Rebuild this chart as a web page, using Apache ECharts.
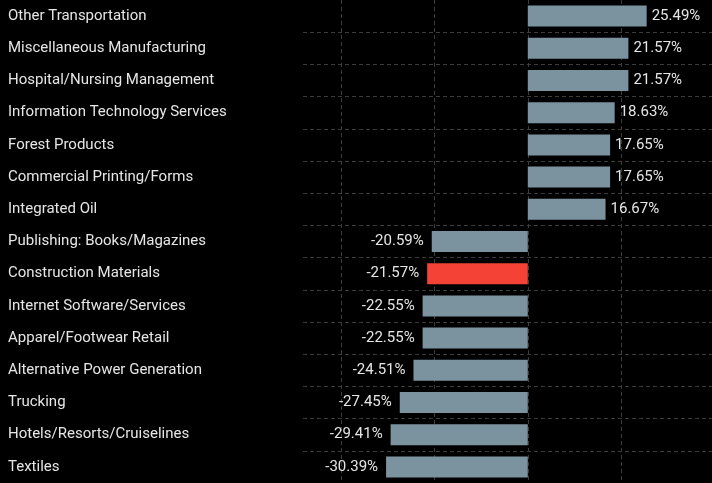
<!DOCTYPE html>
<html lang="en">

<head>
  <meta charset="UTF-8">
  <title>Industry returns</title>
  <style>
    html, body { margin: 0; padding: 0; background: #000; }
  </style>
</head>

<body>
  <div class="wrapper" style="width:712px;height:483px;"></div>

  <script src="https://cdn.jsdelivr.net/npm/echarts@6/dist/echarts.min.js"></script>
  <script>
    const categories = [
      'Other Transportation', 'Miscellaneous Manufacturing', 'Hospital/Nursing Management',
      'Information Technology Services', 'Forest Products', 'Commercial Printing/Forms',
      'Integrated Oil', 'Publishing: Books/Magazines', 'Construction Materials',
      'Internet Software/Services', 'Apparel/Footwear Retail', 'Alternative Power Generation',
      'Trucking', 'Hotels/Resorts/Cruiselines', 'Textiles'
    ]
    const values = [25.49, 21.57, 21.57, 18.63, 17.65, 17.65, 16.67,
      -20.59, -21.57, -22.55, -22.55, -24.51, -27.45, -29.41, -30.39]
    // the one bar drawn in red
    const highlight = 'Construction Materials'

    const echart = echarts.init(document.querySelector('.wrapper'))

    const gridLine = { show: true, showMinLine: false, showMaxLine: false,
      lineStyle: { color: '#3c3c3c', type: [4, 3], width: 1 } }

    const option = {
      backgroundColor: '#000',
      animation: false,
      grid: { left: 303, right: 0, top: 0, bottom: 0 },
      xAxis: {
        type: 'value',
        min: -48.2,
        max: 39.5,
        axisLabel: { show: false },
        axisLine: { show: false },
        axisTick: { show: false },
        splitLine: gridLine
      },
      yAxis: {
        type: 'category',
        data: categories,
        inverse: true,
        axisLine: { show: false },
        axisTick: { show: false },
        axisLabel: {
          align: 'left',
          margin: 295,
          color: '#e6e6e6',
          fontFamily: 'Roboto',
          fontSize: 15
        },
        splitLine: gridLine
      },
      series: [{
        type: 'bar',
        barWidth: 21,
        data: values.map((v, i) => ({
          value: v,
          itemStyle: { color: categories[i] === highlight ? '#f44336' : '#7b939f' },
          label: v >= 0 ? { position: 'right', distance: 5 } : { position: 'left', distance: 8 }
        })),
        label: {
          show: true,
          color: '#e6e6e6',
          fontFamily: 'Roboto',
          fontSize: 15,
          formatter: p => p.value.toFixed(2) + '%'
        }
      }]
    }

    echart.setOption(option)
  </script>

</body>

</html>
